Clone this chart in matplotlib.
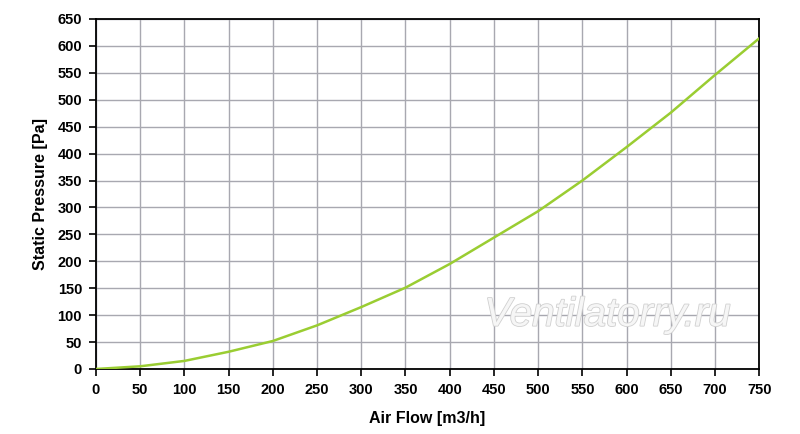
import numpy as np
import matplotlib.pyplot as plt
import matplotlib.patheffects as pe

# values
air_flow = [0, 50, 100, 150, 200, 250, 300, 350, 400, 450, 500, 550, 600, 650, 700, 750]
pressure = [0, 5, 15, 32, 52, 81, 115, 151, 195, 244, 293, 350, 412, 476, 546, 614]

x_ticks = list(range(0, 751, 50))
y_ticks = list(range(0, 651, 50))

plt.rcParams['font.family'] = ['Liberation Sans', 'DejaVu Sans']

fig = plt.figure(figsize=(8, 4.34), dpi=100)
ax = fig.add_axes([0.12, 0.1498, 0.829, 0.8065])

ax.plot(air_flow, pressure, color='#9acd32', lw=1.8, zorder=3)

ax.set_xlim(0, 750)
ax.set_ylim(0, 650)
ax.set_xticks(x_ticks)
ax.set_yticks(y_ticks)
ax.grid(True, color='#a8a8b0', lw=1.0)
ax.set_axisbelow(True)
for s in ax.spines.values():
    s.set_color('black')
    s.set_linewidth(1.3)
ax.tick_params(direction='out', length=5, width=1.2, color='black', labelsize=10.5, pad=5)
for lab in ax.get_xticklabels() + ax.get_yticklabels():
    lab.set_fontweight('bold')

ax.set_xlabel('Air Flow [m3/h]', fontsize=11.5, fontweight='bold', labelpad=10)
ax.set_ylabel('Static Pressure [Pa]', fontsize=11.5, fontweight='bold', labelpad=7)

ax.text(0.771, 0.155, 'Ventilatorry.ru', transform=ax.transAxes, ha='center', va='center',
        fontsize=29, style='italic', color='#f6f6f6',
        path_effects=[pe.withStroke(linewidth=1.2, foreground='#d0d0d0')], zorder=2)

fig.savefig('out.png', dpi=100)
